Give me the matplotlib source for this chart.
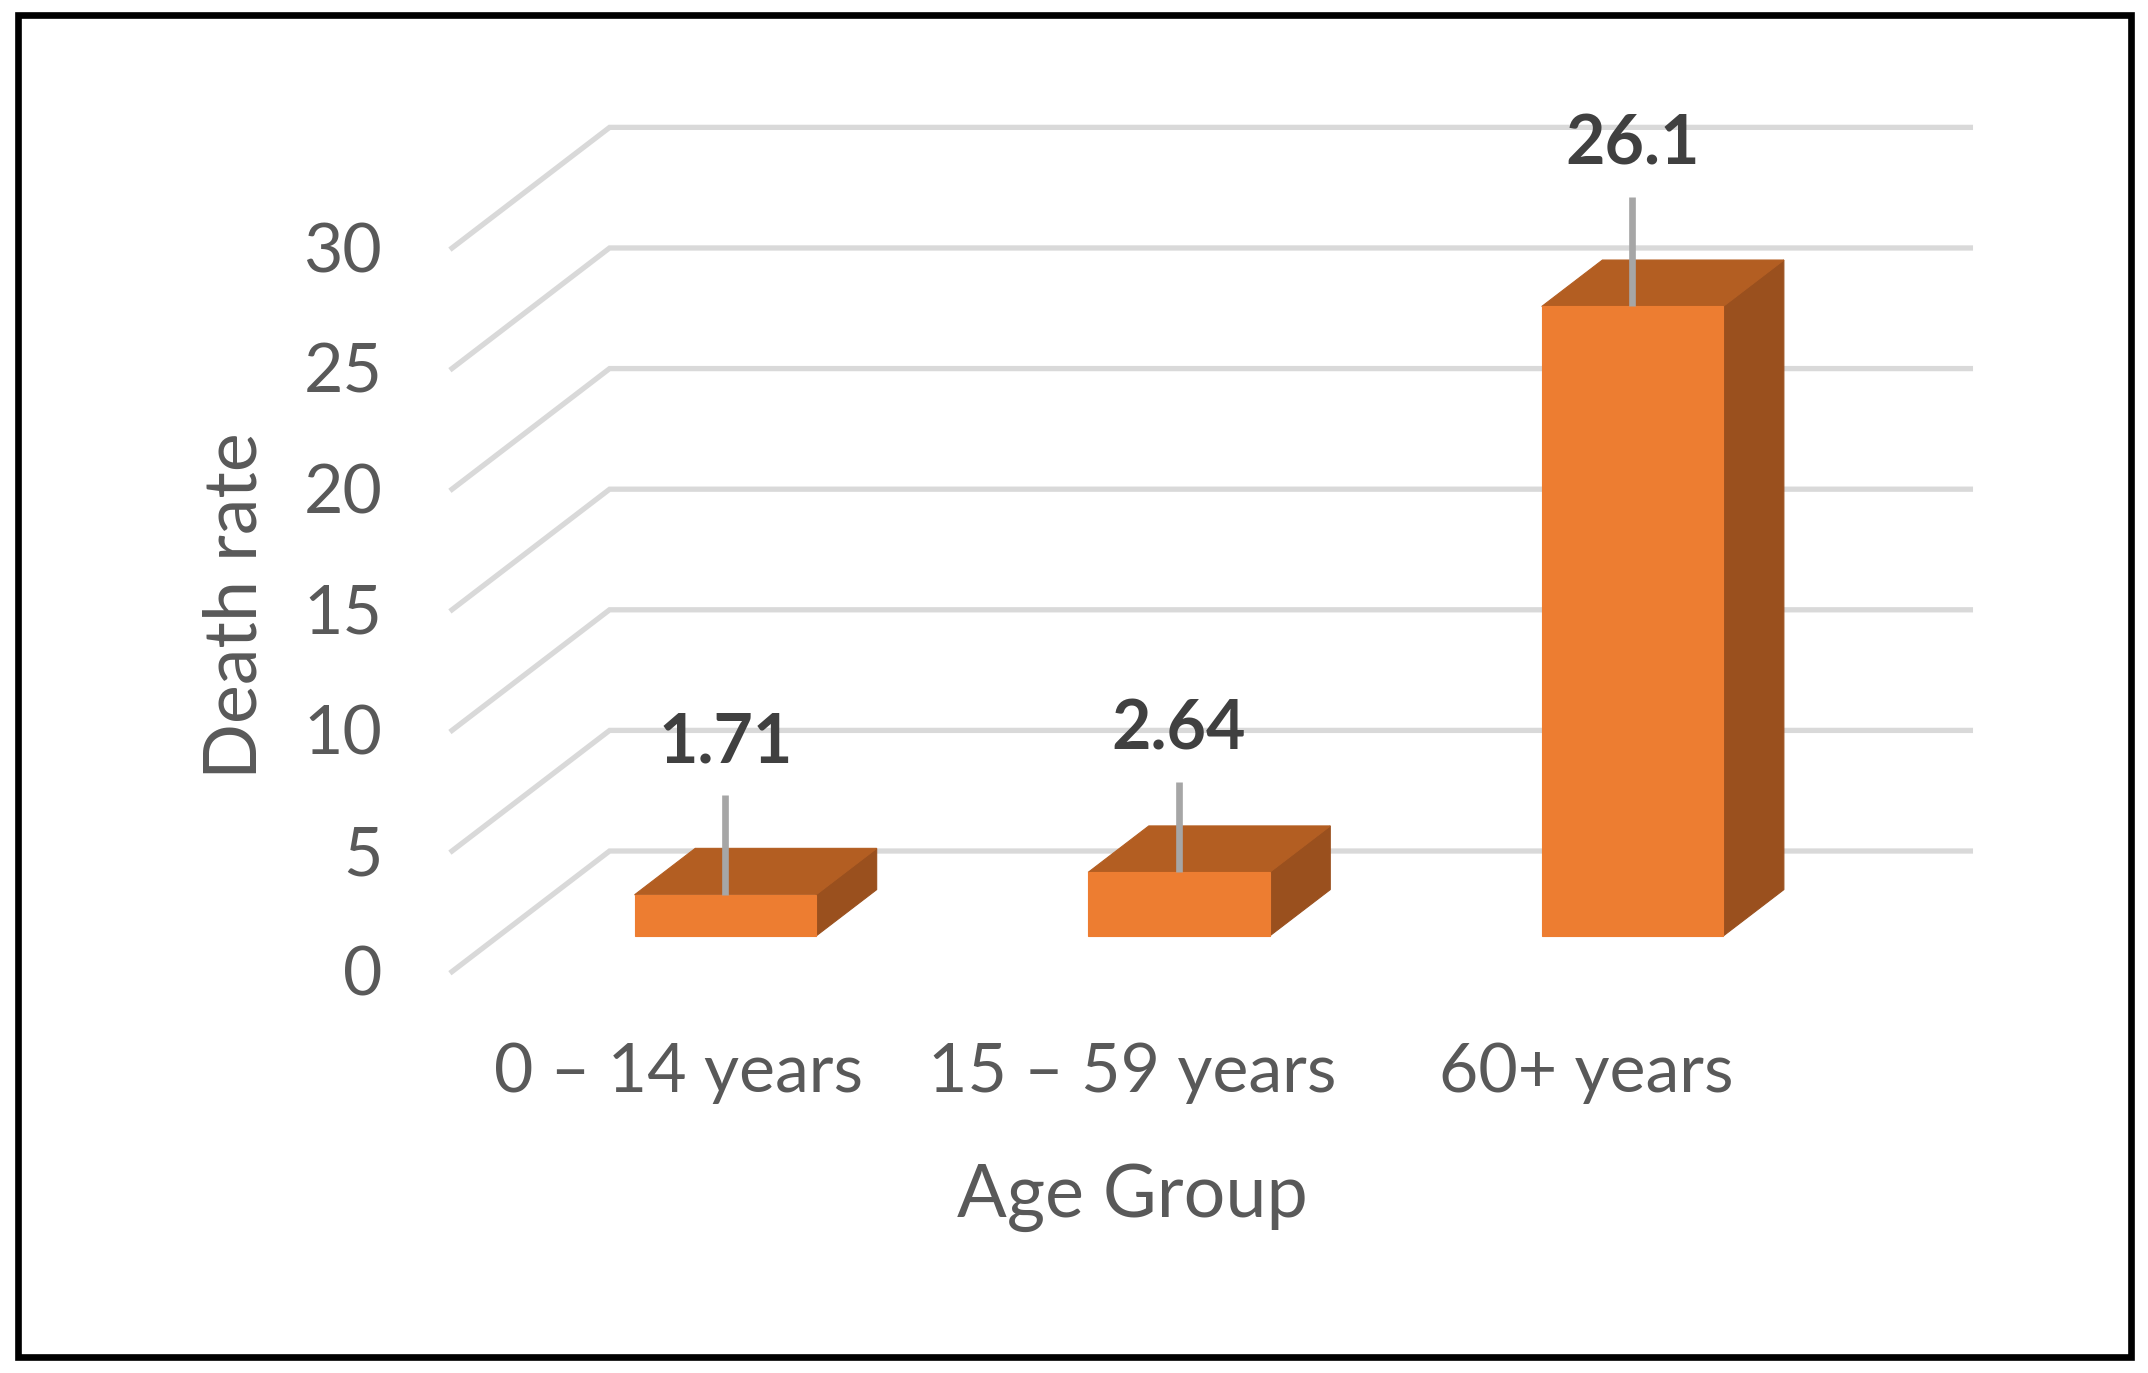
import matplotlib
matplotlib.use("Agg")
import matplotlib.pyplot as plt
from matplotlib.patches import Polygon, Rectangle

plt.rcParams['font.family'] = ['Lato', 'DejaVu Sans']

# data
age_groups = ['0 – 14 years', '15 – 59 years', '60+ years']
death_rate = [1.71, 2.64, 26.1]
y_ticks = [0, 5, 10, 15, 20, 25, 30]

# label placement above each bar (in value units, tweaked by hand like the original)
label_offset = [5.5, 5.1, 5.9]
leader_gap = 1.35

# fake 3d: one unit of depth moves right by DX and up by DY
DX, DY = 0.3474, 5.0
z_front, z_back = 0.295, 0.68
bar_w = 0.4

front_col = '#ED7D31'
top_col = '#B35E22'
side_col = '#9A501E'
grid_col = '#D9D9D9'
text_col = '#595959'


def proj(x, v, z):
    return (x + DX * z, v + DY * z)


fig = plt.figure(figsize=(10.74, 6.865), dpi=200)
ax = fig.add_axes([0, 0, 1, 1])
ax.set_xlim(-0.9965, 3.739)
ax.set_ylim(-16.64, 40.28)
ax.axis('off')

# walls / gridlines
for v in y_ticks:
    x0, y0 = proj(0, v, 0)
    x1, y1 = proj(0, v, 1)
    x2, y2 = proj(len(age_groups), v, 1)
    ax.plot([x0, x1, x2], [y0, y1, y2], color=grid_col, lw=1.9,
            solid_joinstyle='miter', zorder=1)
    ax.text(-0.154, v - 1.0, str(v), ha='right', va='baseline',
            fontsize=24.5, color=text_col)

# bars
for i, val in enumerate(death_rate):
    xl = i + 0.5 - bar_w / 2
    xr = i + 0.5 + bar_w / 2
    front = [proj(xl, 0, z_front), proj(xr, 0, z_front),
             proj(xr, val, z_front), proj(xl, val, z_front)]
    top = [proj(xl, val, z_front), proj(xr, val, z_front),
           proj(xr, val, z_back), proj(xl, val, z_back)]
    side = [proj(xr, 0, z_front), proj(xr, 0, z_back),
            proj(xr, val, z_back), proj(xr, val, z_front)]
    for pts, c in [(side, side_col), (top, top_col), (front, front_col)]:
        ax.add_patch(Polygon(pts, closed=True, facecolor=c, edgecolor=c,
                             lw=0.4, zorder=3))

    # leader line + value label
    lx, ly = proj(i + 0.5, val, z_front)
    ax.plot([lx, lx], [ly, ly + label_offset[i] - leader_gap],
            color='#A6A6A6', lw=2.4, zorder=4, solid_capstyle='butt')
    ax.text(lx, ly + label_offset[i], f'{val:g}', ha='center', va='baseline',
            fontsize=24.5, fontweight='bold', color='#404040', zorder=5)

    ax.text(i + 0.5, -5.0, age_groups[i], ha='center', va='baseline',
            fontsize=24.5, color=text_col)

# axis titles
ax.text(1.5, -10.18, 'Age Group', ha='center', va='baseline',
        fontsize=26.5, color=text_col)
ax.text(-0.430, 15.16, 'Death rate', rotation=90, rotation_mode='anchor',
        ha='center', va='baseline', fontsize=26.5, color=text_col)

# outer frame
fig.patches.append(Rectangle((17.5 / 2148, 1 - 1356.5 / 1373),
                             (2130.5 - 17.5) / 2148, (1356.5 - 15) / 1373,
                             transform=fig.transFigure, fill=False,
                             edgecolor='black', lw=2.4))

fig.savefig('out.png', dpi=200)
